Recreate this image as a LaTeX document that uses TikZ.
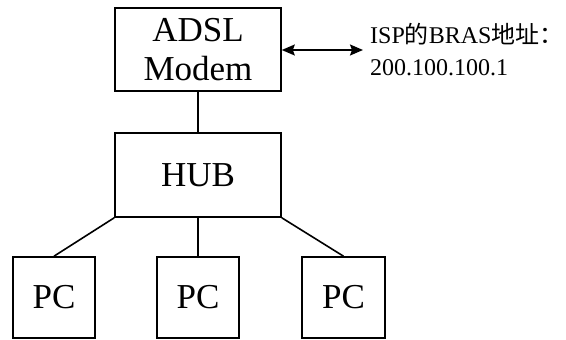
\documentclass[tikz,border=0pt]{standalone}
\usepackage{fontspec}
\setmainfont{Liberation Serif}
\newfontfamily\cjkfont{Noto Sans CJK SC}
\usepackage{tikz}
\usetikzlibrary{arrows.meta}

\begin{document}
\begin{tikzpicture}[x=1pt,y=-1pt,
  box/.style={draw,line width=1.6pt,inner sep=0pt,font=\fontsize{35}{39}\selectfont},
  link/.style={line width=1.6pt},
  note/.style={inner sep=0pt,anchor=base west,font=\fontsize{24}{30}\selectfont}]
\useasboundingbox (0,0) rectangle (566,340);

% Boxes
\node[box,minimum width=166pt,minimum height=83pt,align=center] (modem) at (198,49.5) {ADSL\\Modem};
\node[box,minimum width=166pt,minimum height=84pt] (hub) at (198,175) {HUB};
\node[box,minimum width=82pt,minimum height=81pt] (pc1) at (54,297.5) {PC};
\node[box,minimum width=82pt,minimum height=81pt] (pc2) at (198,297.5) {PC};
\node[box,minimum width=83pt,minimum height=81pt] (pc3) at (343.5,297.5) {PC};

% Links
\draw[link] (modem.south) -- (hub.north);
\draw[link] (hub.south west) -- (pc1.north);
\draw[link] (hub.south) -- (pc2.north);
\draw[link] (hub.south east) -- (pc3.north);

% BRAS address
\coordinate (bras) at (363,50);
\draw[link,{Stealth[length=13pt,width=11pt,inset=2pt]}-{Stealth[length=13pt,width=11pt,inset=2pt]}] (modem.east |- bras) -- (bras);
\node[note] (isp) at (370,43) {ISP{\cjkfont 的}BRAS{\cjkfont 地址：}};
\node[note] (ipaddr) at (370,75) {200.100.100.1};
\end{tikzpicture}
\end{document}
